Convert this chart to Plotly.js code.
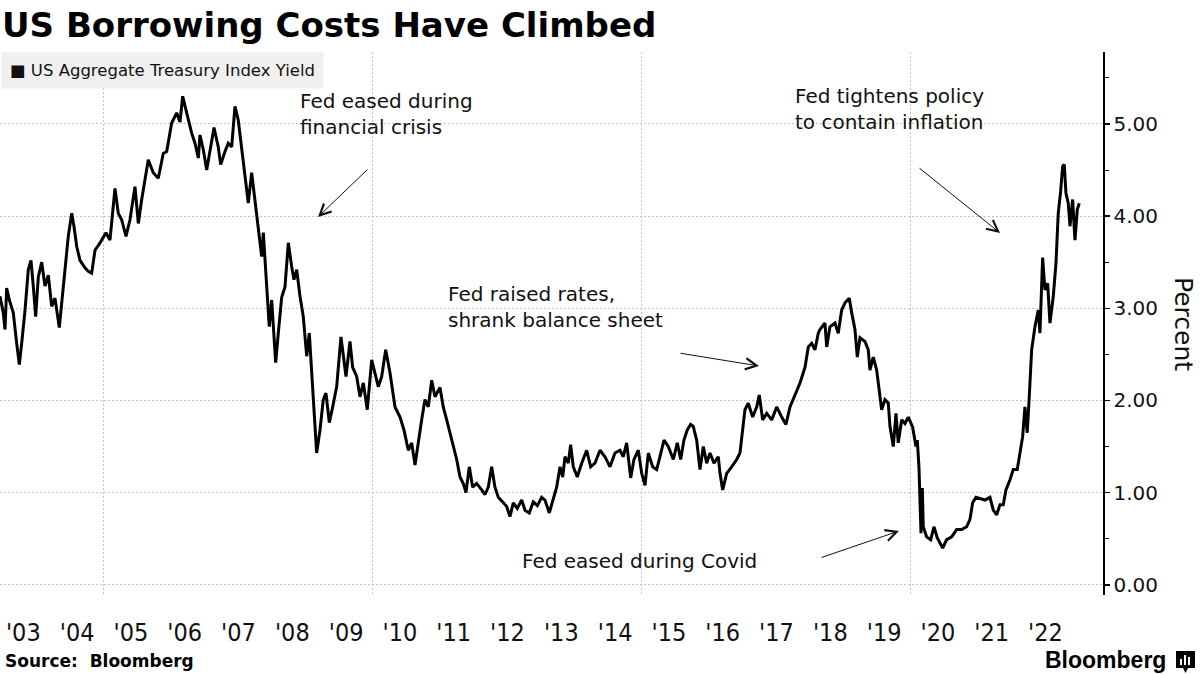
<!DOCTYPE html>
<html>
<head>
<meta charset="utf-8">
<script src="https://cdn.plot.ly/plotly-3.0.1.min.js"></script>
<style>
html,body{margin:0;padding:0;background:#fff;}
#chart{width:1200px;height:675px;}
</style>
</head>
<body>
<div id="chart"></div>
<script>
// ---- Data (decimal years, yield in percent) ----
const years = [
2003.067,2003.128,2003.160,2003.191,2003.240,2003.284,2003.314,2003.377,2003.426,2003.470,2003.532,2003.593,2003.643,2003.686,2003.730,2003.779,2003.842,2003.903,2003.965,
2004.028,2004.089,2004.169,2004.243,2004.336,2004.400,2004.442,2004.493,2004.554,2004.647,2004.708,2004.771,2004.833,2004.926,
2005.037,2005.111,2005.204,2005.266,2005.329,2005.409,2005.483,2005.576,2005.638,2005.701,2005.823,2005.916,
2006.009,2006.102,2006.165,2006.258,2006.351,2006.413,2006.463,2006.537,2006.630,2006.691,2006.753,2006.784,2006.846,2006.909,2006.970,
2007.045,2007.124,2007.169,2007.249,2007.310,2007.373,2007.435,2007.496,2007.559,2007.621,2007.682,2007.745,2007.807,2007.868,2007.931,2007.961,
2008.011,2008.072,2008.117,2008.191,2008.240,2008.303,2008.364,2008.426,2008.489,2008.531,2008.582,2008.643,2008.704,2008.755,2008.768,2008.816,2008.861,2008.909,2008.953,
2009.015,2009.076,2009.126,2009.188,2009.251,2009.325,2009.405,2009.448,2009.498,2009.572,2009.622,2009.697,2009.758,2009.820,2009.894,2009.976,
2010.037,2010.098,2010.162,2010.236,2010.316,2010.409,2010.502,2010.576,2010.656,2010.719,2010.781,2010.842,2010.905,2010.966,
2011.028,2011.091,2011.152,2011.245,2011.306,2011.370,2011.431,2011.492,2011.556,2011.617,2011.678,2011.728,2011.790,2011.853,2011.927,
2012.020,2012.082,2012.143,2012.206,2012.267,2012.329,2012.411,2012.485,2012.546,2012.608,2012.682,2012.764,2012.825,2012.905,2012.979,
2013.054,2013.135,2013.197,2013.277,2013.351,2013.414,2013.476,2013.526,2013.569,2013.630,2013.674,2013.723,2013.797,2013.879,2013.972,
2014.046,2014.126,2014.219,2014.312,2014.405,2014.498,2014.591,2014.652,2014.715,2014.790,2014.851,2014.931,2014.994,
2015.056,2015.117,2015.199,2015.273,2015.334,2015.409,2015.489,2015.582,2015.656,2015.719,2015.780,2015.842,2015.905,2015.953,
2016.016,2016.078,2016.139,2016.202,2016.264,2016.338,2016.418,2016.450,2016.500,2016.574,2016.667,2016.760,2016.821,2016.871,2016.914,2016.975,
2017.057,2017.132,2017.180,2017.243,2017.318,2017.411,2017.504,2017.597,2017.676,2017.751,2017.844,2017.937,
2018.030,2018.091,2018.154,2018.215,2018.277,2018.308,2018.401,2018.433,2018.494,2018.587,2018.648,2018.711,2018.773,2018.853,2018.898,2018.959,
2019.002,2019.052,2019.144,2019.206,2019.237,2019.299,2019.362,2019.411,2019.455,2019.516,2019.578,2019.609,2019.671,2019.721,2019.763,2019.827,2019.888,2019.950,
2020.031,2020.092,2020.117,2020.148,2020.167,2020.186,2020.210,2020.228,2020.291,2020.366,2020.427,2020.489,2020.589,2020.663,2020.756,2020.849,2020.942,
2021.035,2021.096,2021.146,2021.208,2021.282,2021.375,2021.468,2021.530,2021.593,2021.654,2021.715,2021.765,2021.840,2021.901,2021.975,
2022.026,2022.076,2022.118,2022.161,2022.198,2022.243,2022.304,2022.366,2022.397,2022.447,2022.490,2022.540,2022.583,2022.645,2022.695,2022.737,2022.782,2022.819,2022.849,2022.880,2022.923,2022.955,
2023.005,2023.048,2023.091,2023.128
];
const yields = [
3.13,2.95,2.77,3.22,3.09,3.02,2.95,2.62,2.39,2.62,2.98,3.42,3.52,3.24,2.91,3.34,3.50,3.24,3.36,
3.02,3.11,2.79,3.24,3.78,4.03,3.89,3.67,3.52,3.44,3.40,3.38,3.63,3.71,
3.82,3.74,4.30,4.03,3.96,3.78,3.96,4.32,3.92,4.18,4.61,4.47,
4.41,4.68,4.70,5.01,5.12,5.02,5.30,5.12,4.90,4.79,4.63,4.88,4.72,4.50,4.72,
4.96,4.75,4.56,4.70,4.79,4.75,5.19,5.04,4.75,4.43,4.14,4.47,4.18,3.85,3.56,3.82,
3.31,2.80,3.09,2.41,2.73,3.12,3.23,3.71,3.45,3.31,3.42,3.13,2.91,2.58,2.48,2.73,2.33,1.86,1.43,
1.68,2.01,2.08,1.76,1.93,2.15,2.69,2.47,2.26,2.64,2.36,2.26,2.04,2.19,1.90,2.44,
2.30,2.15,2.26,2.55,2.30,1.93,1.82,1.68,1.46,1.54,1.30,1.57,1.79,2.01,
1.93,2.22,2.04,2.14,1.93,1.79,1.65,1.54,1.36,1.17,1.10,1.00,1.28,1.06,1.10,
1.03,0.98,1.06,1.28,1.06,0.95,0.90,0.85,0.74,0.89,0.83,0.92,0.81,0.78,0.90,
0.86,0.95,0.92,0.78,0.92,1.06,1.28,1.17,1.39,1.32,1.52,1.28,1.17,1.32,1.46,
1.28,1.32,1.46,1.39,1.28,1.43,1.46,1.39,1.54,1.16,1.36,1.46,1.21,
1.08,1.43,1.28,1.25,1.39,1.57,1.50,1.36,1.54,1.36,1.57,1.68,1.74,1.72,
1.57,1.25,1.50,1.32,1.43,1.32,1.39,1.21,1.03,1.21,1.28,1.36,1.43,1.65,1.90,1.97,
1.82,1.93,2.06,1.79,1.86,1.79,1.93,1.82,1.74,1.93,2.06,2.19,
2.36,2.58,2.62,2.55,2.73,2.77,2.84,2.58,2.80,2.84,2.73,2.98,3.06,3.11,2.95,2.77,
2.47,2.68,2.64,2.55,2.33,2.47,2.33,2.08,1.90,2.01,1.97,1.72,1.50,1.86,1.54,1.79,1.75,1.82,
1.71,1.50,1.57,1.28,0.95,0.56,1.05,0.63,0.52,0.49,0.63,0.51,0.40,0.49,0.52,0.60,0.60,
0.63,0.71,0.89,0.95,0.94,0.92,0.95,0.81,0.76,0.87,0.87,1.03,1.14,1.25,1.25,
1.46,1.61,1.93,1.65,2.04,2.55,2.80,2.98,2.73,3.55,3.20,3.27,2.84,3.13,3.49,4.03,4.27,4.54,4.56,4.25,4.14,3.89,
4.18,3.74,4.07,4.14
];
const seriesName = 'US Aggregate Treasury Index Yield';
const tickYears = [2003.5,2004.5,2005.5,2006.5,2007.5,2008.5,2009.5,2010.5,2011.5,2012.5,2013.5,2014.5,2015.5,2016.5,2017.5,2018.5,2019.5,2020.5,2021.5,2022.5];
const tickLabels = ["'03","'04","'05","'06","'07","'08","'09","'10","'11","'12","'13","'14","'15","'16","'17","'18","'19","'20","'21","'22"];
const yTickVals = [0,1,2,3,4,5];

// ---- Layout geometry ----
const W = 1200, H = 675;
const M = {l:0, r:97, t:52, b:80};
const plotW = W - M.l - M.r, plotH = H - M.t - M.b;
const PX = p => (p - M.l) / plotW;          // pixel x -> paper x
const PY = p => (H - M.b - p) / plotH;      // pixel y -> paper y

const textFont = {family:'DejaVu Sans, Verdana, sans-serif', size:20, color:'#111'};

function note(text, xLeft, yMid) {
  return {xref:'paper', yref:'paper', x:PX(xLeft), y:PY(yMid), xanchor:'left', yanchor:'middle',
          text:text, showarrow:false, align:'left', font:textFont};
}
function arrow(tipX, tipY, tailX, tailY) {
  return {xref:'paper', yref:'paper', x:PX(tipX), y:PY(tipY), axref:'pixel', ayref:'pixel',
          ax:tailX - tipX, ay:tailY - tipY, text:'', showarrow:true, arrowhead:5,
          arrowsize:2.2, arrowwidth:1, arrowcolor:'#111', standoff:0, startstandoff:0};
}

const trace = {
  type:'scatter', mode:'lines', x:years, y:yields, name:seriesName,
  line:{color:'#000', width:3, shape:'linear'}, hoverinfo:'skip'
};

const layout = {
  width:W, height:H,
  margin:{l:M.l, r:M.r, t:M.t, b:M.b, pad:0},
  paper_bgcolor:'#fff', plot_bgcolor:'#fff',
  showlegend:false,
  font:{family:'DejaVu Sans, Verdana, sans-serif', color:'#000'},
  title:{text:'<b>US Borrowing Costs Have Climbed</b>', xref:'container', yref:'container',
         x:2/W, xanchor:'left', y:1 - 25/H, yanchor:'middle',
         font:{family:'DejaVu Sans, Verdana, sans-serif', size:34, color:'#000'}},
  xaxis:{
    range:[2003.067, 2023.569], tickmode:'array', tickvals:tickYears, ticktext:tickLabels,
    showgrid:false, zeroline:false, showline:false, ticks:'',
    tickfont:{family:'Liberation Sans Narrow, DejaVu Sans Condensed, sans-serif', size:25, color:'#111'},
    ticklabelstandoff:20,
    minor:{tickmode:'linear', tick0:2005, dtick:5, showgrid:true, gridcolor:'#c4c4c4', gridwidth:1, griddash:'2px,2px', ticks:''},
    fixedrange:true
  },
  yaxis:{
    side:'right', range:[-0.11, 5.78], tickmode:'array', tickvals:yTickVals, tickformat:'.2f',
    showgrid:true, gridcolor:'#c4c4c4', gridwidth:1, griddash:'2px,2px', zeroline:false,
    showline:true, linecolor:'#000', linewidth:1.5, ticks:'outside', ticklen:5, tickwidth:1.5, tickcolor:'#000',
    ticklabelstandoff:0,
    tickfont:{family:'DejaVu Sans, Verdana, sans-serif', size:20, color:'#111'},
    minor:{tickmode:'linear', tick0:0.5, dtick:1, ticks:'outside', ticklen:4, tickwidth:1, tickcolor:'#000', showgrid:false},
    fixedrange:true
  },
  annotations:[
    // legend box
    {xref:'paper', yref:'paper', x:PX(1), y:1, xanchor:'left', yanchor:'top', showarrow:false,
     text:'■ ' + seriesName, bgcolor:'#f0f0f0', borderpad:8,
     font:{family:'DejaVu Sans, Verdana, sans-serif', size:16.5, color:'#111'}},
    note('Fed eased during<br>financial crisis', 298, 114),
    note('Fed tightens policy<br>to contain inflation', 793, 109),
    note('Fed raised rates,<br>shrank balance sheet', 446, 307),
    note('Fed eased during Covid', 520, 561),
    arrow(318, 217, 369, 168),
    arrow(759, 366, 679, 353),
    arrow(1000, 233, 918, 167),
    arrow(899, 531, 820, 558),
    // y axis title
    {xref:'paper', yref:'paper', x:PX(1184), y:PY(324), xanchor:'center', yanchor:'middle', showarrow:false,
     text:'Percent', textangle:90, font:{family:'DejaVu Sans, Verdana, sans-serif', size:25, color:'#111'}},
    // footer
    {xref:'paper', yref:'paper', x:PX(3), y:PY(661), xanchor:'left', yanchor:'middle', showarrow:false,
     text:'<b>Source:&nbsp; Bloomberg</b>', font:{family:'DejaVu Sans, Verdana, sans-serif', size:17, color:'#000'}},
    {xref:'paper', yref:'paper', x:PX(1168), y:PY(660), xanchor:'right', yanchor:'middle', showarrow:false,
     text:'<b>Bloomberg</b>', font:{family:'Liberation Sans, Arial, sans-serif', size:23, color:'#000'}}
  ],
  shapes:[
    // Bloomberg icon
    {type:'path', xref:'paper', yref:'paper', fillcolor:'#000', line:{width:0},
     path:'M'+PX(1176)+','+PY(651)+' L'+PX(1195)+','+PY(651)+' L'+PX(1195)+','+PY(668)+' L'+PX(1188)+','+PY(668)+' L'+PX(1185.5)+','+PY(673)+' L'+PX(1183)+','+PY(668)+' L'+PX(1176)+','+PY(668)+' Z'},
    {type:'rect', xref:'paper', yref:'paper', x0:PX(1180), x1:PX(1182), y0:PY(665), y1:PY(659), fillcolor:'#fff', line:{width:0}},
    {type:'rect', xref:'paper', yref:'paper', x0:PX(1184), x1:PX(1186), y0:PY(665), y1:PY(655), fillcolor:'#fff', line:{width:0}},
    {type:'rect', xref:'paper', yref:'paper', x0:PX(1188), x1:PX(1190), y0:PY(665), y1:PY(657), fillcolor:'#fff', line:{width:0}}
  ]
};

Plotly.newPlot('chart', [trace], layout, {displayModeBar:false, staticPlot:true});
</script>
</body>
</html>
